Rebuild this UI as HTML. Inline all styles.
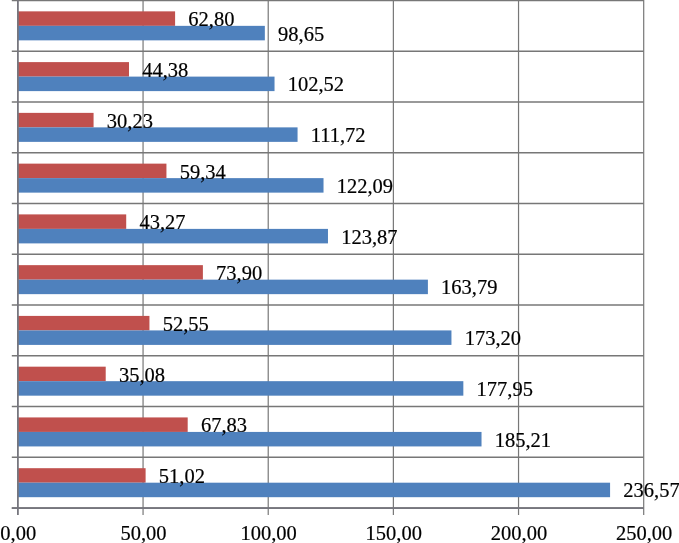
<!DOCTYPE html>
<html><head><meta charset="utf-8"><style>
html,body{margin:0;padding:0;background:#fff;width:679px;height:543px;overflow:hidden}
svg{display:block;will-change:transform}
text{font-family:"Liberation Serif",serif;font-size:20.5px;fill:#000;stroke:#000;stroke-width:0.2px}
</style></head><body>
<svg width="679" height="543" viewBox="0 0 679 543">
<line x1="11.8" y1="0.45" x2="643.70" y2="0.45" stroke="#777777" stroke-width="1.6"/>
<line x1="11.8" y1="51.21" x2="643.70" y2="51.21" stroke="#777777" stroke-width="1.6"/>
<line x1="11.8" y1="101.97" x2="643.70" y2="101.97" stroke="#777777" stroke-width="1.6"/>
<line x1="11.8" y1="152.73" x2="643.70" y2="152.73" stroke="#777777" stroke-width="1.6"/>
<line x1="11.8" y1="203.49" x2="643.70" y2="203.49" stroke="#777777" stroke-width="1.6"/>
<line x1="11.8" y1="254.25" x2="643.70" y2="254.25" stroke="#777777" stroke-width="1.6"/>
<line x1="11.8" y1="305.01" x2="643.70" y2="305.01" stroke="#777777" stroke-width="1.6"/>
<line x1="11.8" y1="355.77" x2="643.70" y2="355.77" stroke="#777777" stroke-width="1.6"/>
<line x1="11.8" y1="406.53" x2="643.70" y2="406.53" stroke="#777777" stroke-width="1.6"/>
<line x1="11.8" y1="457.29" x2="643.70" y2="457.29" stroke="#777777" stroke-width="1.6"/>
<line x1="11.8" y1="508.05" x2="643.70" y2="508.05" stroke="#777777" stroke-width="1.6"/>
<line x1="143.06" y1="0" x2="143.06" y2="515.1" stroke="#777777" stroke-width="1.2"/>
<line x1="268.22" y1="0" x2="268.22" y2="515.1" stroke="#777777" stroke-width="1.2"/>
<line x1="393.38" y1="0" x2="393.38" y2="515.1" stroke="#777777" stroke-width="1.2"/>
<line x1="518.54" y1="0" x2="518.54" y2="515.1" stroke="#777777" stroke-width="1.2"/>
<line x1="643.70" y1="0" x2="643.70" y2="515.1" stroke="#777777" stroke-width="1.2"/>
<rect x="17.9" y="11.35" width="157.20" height="14.5" fill="#C0504D"/>
<rect x="17.9" y="25.85" width="246.94" height="14.5" fill="#4F81BD"/>
<rect x="17.9" y="62.11" width="111.09" height="14.5" fill="#C0504D"/>
<rect x="17.9" y="76.61" width="256.63" height="14.5" fill="#4F81BD"/>
<rect x="17.9" y="112.87" width="75.67" height="14.5" fill="#C0504D"/>
<rect x="17.9" y="127.37" width="279.66" height="14.5" fill="#4F81BD"/>
<rect x="17.9" y="163.63" width="148.54" height="14.5" fill="#C0504D"/>
<rect x="17.9" y="178.13" width="305.62" height="14.5" fill="#4F81BD"/>
<rect x="17.9" y="214.39" width="108.31" height="14.5" fill="#C0504D"/>
<rect x="17.9" y="228.89" width="310.07" height="14.5" fill="#4F81BD"/>
<rect x="17.9" y="265.15" width="184.99" height="14.5" fill="#C0504D"/>
<rect x="17.9" y="279.65" width="410.00" height="14.5" fill="#4F81BD"/>
<rect x="17.9" y="315.91" width="131.54" height="14.5" fill="#C0504D"/>
<rect x="17.9" y="330.41" width="433.55" height="14.5" fill="#4F81BD"/>
<rect x="17.9" y="366.67" width="87.81" height="14.5" fill="#C0504D"/>
<rect x="17.9" y="381.17" width="445.44" height="14.5" fill="#4F81BD"/>
<rect x="17.9" y="417.43" width="169.79" height="14.5" fill="#C0504D"/>
<rect x="17.9" y="431.93" width="463.62" height="14.5" fill="#4F81BD"/>
<rect x="17.9" y="468.19" width="127.71" height="14.5" fill="#C0504D"/>
<rect x="17.9" y="482.69" width="592.18" height="14.5" fill="#4F81BD"/>
<line x1="17.9" y1="0" x2="17.9" y2="515.1" stroke="#76767e" stroke-width="1.8"/>
<line x1="11.8" y1="508.1" x2="643.70" y2="508.1" stroke="#76767e" stroke-width="1.8"/>
<text x="188.30" y="26.25">62,80</text>
<text x="278.04" y="40.65">98,65</text>
<text x="142.19" y="77.01">44,38</text>
<text x="287.73" y="91.41">102,52</text>
<text x="106.77" y="127.77">30,23</text>
<text x="310.76" y="142.17">111,72</text>
<text x="179.64" y="178.53">59,34</text>
<text x="336.72" y="192.93">122,09</text>
<text x="139.41" y="229.29">43,27</text>
<text x="341.17" y="243.69">123,87</text>
<text x="216.09" y="280.05">73,90</text>
<text x="441.10" y="294.45">163,79</text>
<text x="162.64" y="330.81">52,55</text>
<text x="464.65" y="345.21">173,20</text>
<text x="118.91" y="381.57">35,08</text>
<text x="476.54" y="395.97">177,95</text>
<text x="200.89" y="432.33">67,83</text>
<text x="494.72" y="446.73">185,21</text>
<text x="158.81" y="483.09">51,02</text>
<text x="623.28" y="497.49">236,57</text>
<text x="18.30" y="539.9" text-anchor="middle">0,00</text>
<text x="143.46" y="539.9" text-anchor="middle">50,00</text>
<text x="268.62" y="539.9" text-anchor="middle">100,00</text>
<text x="393.78" y="539.9" text-anchor="middle">150,00</text>
<text x="518.94" y="539.9" text-anchor="middle">200,00</text>
<text x="644.10" y="539.9" text-anchor="middle">250,00</text>
</svg>
</body></html>
